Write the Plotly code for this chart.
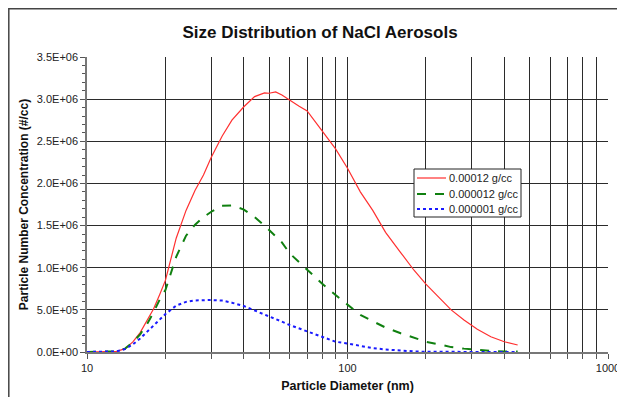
import plotly.graph_objects as go

# Particle diameter (nm)
diameter = [10, 11, 12, 13, 14, 15, 16, 17, 18, 19, 20, 22, 24, 26, 28, 30, 33, 36, 40, 44, 48, 50, 53,
            56, 60, 65, 70, 75, 80, 90, 100, 112, 125, 140, 160, 180, 200, 225, 250, 280, 315, 355, 400, 450]

# Concentrations (#/cc)
conc_00012 = [0, 0, 2e3, 8e3, 40e3, 120e3, 230e3, 370e3, 510e3, 680e3, 850e3, 1350e3, 1680e3, 1920e3, 2100e3,
              2310e3, 2560e3, 2750e3, 2910e3, 3030e3, 3075e3, 3070e3, 3085e3, 3050e3, 2985e3, 2920e3, 2860e3,
              2740e3, 2620e3, 2410e3, 2180e3, 1900e3, 1680e3, 1420e3, 1180e3, 970e3, 806e3, 650e3, 500e3,
              380e3, 270e3, 181e3, 122e3, 83e3]
conc_000012 = [0, 0, 2e3, 8e3, 40e3, 115e3, 210e3, 330e3, 470e3, 620e3, 735e3, 1130e3, 1380e3, 1510e3, 1600e3,
               1664e3, 1735e3, 1740e3, 1690e3, 1600e3, 1500e3, 1447e3, 1380e3, 1300e3, 1170e3, 1070e3, 980e3,
               890e3, 810e3, 676e3, 557e3, 440e3, 365e3, 290e3, 222e3, 165e3, 122e3, 90e3, 58e3, 40e3, 25e3,
               12e3, 7e3, 5e3]
conc_000001 = [0, 0, 2e3, 8e3, 35e3, 90e3, 160e3, 240e3, 310e3, 390e3, 450e3, 550e3, 595e3, 612e3, 618e3,
               617e3, 610e3, 585e3, 545e3, 495e3, 450e3, 427e3, 395e3, 360e3, 320e3, 280e3, 241e3, 205e3,
               174e3, 122e3, 100e3, 70e3, 46e3, 30e3, 14e3, 7e3, 3e3, 1e3, 0, 0, 0, 0, 0, 0]

series_names = ["0.00012 g/cc", "0.000012 g/cc", "0.000001 g/cc"]
series_values = [conc_00012, conc_000012, conc_000001]
series_colors = ["#ff3030", "#108010", "#1a1aff"]
series_dash = ["solid", "dash", "dot"]
series_width = [1.2, 2, 2]

y_tickvals = [0, 5e5, 1e6, 1.5e6, 2e6, 2.5e6, 3e6, 3.5e6]
y_ticktext = ["0.0E+00", "5.0E+05", "1.0E+06", "1.5E+06", "2.0E+06", "2.5E+06", "3.0E+06", "3.5E+06"]
y_minor = [i * 1e5 for i in range(36)]

x_tickvals = [10, 20, 30, 40, 50, 60, 70, 80, 90, 100, 200, 300, 400, 500, 600, 700, 800, 900, 1000]
x_ticktext = ["10", "", "", "", "", "", "", "", "", "100", "", "", "", "", "", "", "", "", "1000"]

FONT = "Liberation Sans, Arial, sans-serif"

# the page body has an 8px default margin, so the figure is offset by 8px
OFF = 8
W, H = 625 - OFF, 397 - OFF
# plot area geometry (page pixels)
L, R, T, B = 87, 608, 57, 352
PW, PH = R - L, B - T


def px_x(p):
    return (p - L) / PW


def px_y(p):
    return (B - p) / PH


fig = go.Figure()
for name, vals, col, dsh, w in zip(series_names, series_values, series_colors, series_dash, series_width):
    fig.add_trace(go.Scatter(x=diameter, y=vals, mode="lines", name=name, showlegend=False,
                             line=dict(color=col, width=w, dash=dsh)))

fig.update_layout(
    width=W, height=H,
    margin=dict(l=L - OFF, r=W - (R - OFF), t=T - OFF, b=H - (B - OFF), autoexpand=False),
    paper_bgcolor="white", plot_bgcolor="white",
    font=dict(family=FONT, size=11, color="#222"),
    title=dict(text="<b>Size Distribution of NaCl Aerosols</b>", x=(320 - OFF) / W, xref="container",
               xanchor="center", y=1 - (32 - OFF) / H, yref="container", yanchor="middle",
               font=dict(size=17, color="#111")),
    showlegend=False,
)

fig.update_xaxes(
    type="log", range=[1, 3], automargin=False,
    tickmode="array", tickvals=x_tickvals, ticktext=x_ticktext,
    ticks="outside", ticklen=5, tickcolor="#555",
    showgrid=True, gridcolor="#2b2b2b", gridwidth=1,
    showline=True, linecolor="#777", linewidth=1.5,
    zeroline=False,
    title=dict(text="<b>Particle Diameter (nm)</b>", font=dict(size=12.5, color="#111"), standoff=8),
)
fig.update_yaxes(
    range=[0, 3.5e6], automargin=False,
    tickmode="array", tickvals=y_tickvals, ticktext=y_ticktext,
    ticks="outside", ticklen=5, tickcolor="#555",
    minor=dict(tickmode="array", tickvals=y_minor, ticks="outside", ticklen=3, tickcolor="#555", showgrid=False),
    showgrid=True, gridcolor="#2b2b2b", gridwidth=1,
    showline=True, linecolor="#777", linewidth=1.5,
    zeroline=False,
    title=dict(text="<b>Particle Number Concentration (#/cc)</b>", font=dict(size=12, color="#111"), standoff=6),
)

# outer chart-area border (top and left edges visible)
fig.add_shape(type="rect", xref="paper", yref="paper",
              x0=px_x(8.8), x1=1.2, y0=-0.5, y1=px_y(8.8),
              line=dict(color="#444", width=1.5), layer="below")

# legend box drawn by hand to match the compact original spacing
fig.add_shape(type="rect", xref="paper", yref="paper",
              x0=px_x(414), x1=px_x(521), y0=px_y(217), y1=px_y(169),
              line=dict(color="#222", width=1), fillcolor="white", layer="above")
legend_rows = [178, 194, 209]
for name, col, dsh, w, row in zip(series_names, series_colors, series_dash, series_width, legend_rows):
    fig.add_shape(type="line", xref="paper", yref="paper",
                  x0=px_x(417), x1=px_x(446), y0=px_y(row), y1=px_y(row),
                  line=dict(color=col, width=w, dash=dsh), layer="above")
    fig.add_annotation(xref="paper", yref="paper", x=px_x(447), y=px_y(row), text=name,
                       showarrow=False, xanchor="left", yanchor="middle",
                       font=dict(size=11, color="#222", family=FONT))

fig.write_html("out.html")
